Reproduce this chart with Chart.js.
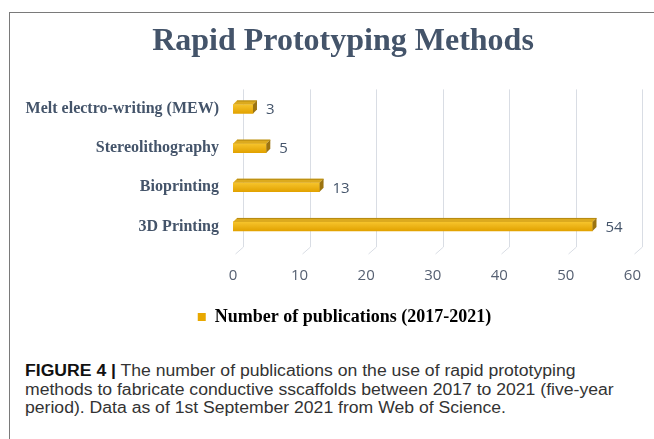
<!DOCTYPE html>
<html>
<head>
<meta charset="utf-8">
<script src="https://cdn.jsdelivr.net/npm/chart.js@4.4.1/dist/chart.umd.min.js"></script>
<style>
  html, body { margin: 0; padding: 0; background: #fff; overflow: hidden; }
  body { width: 654px; height: 439px; position: relative; }
  #frame {
    position: absolute; left: 9px; top: 12px; width: 660px; height: 440px;
    border-top: 1px solid #7a7a7a; border-left: 1px solid #7a7a7a;
  }
  #chart { position: absolute; left: 10px; top: 13px; }
  #caption {
    position: absolute; left: 25px; top: 362px;
    font-family: "Liberation Sans", Arial, sans-serif; font-size: 16px;
    line-height: 18.5px; color: #333; white-space: nowrap;
    transform: scaleX(1.1); transform-origin: left top;
  }
  #caption b { color: #111; }
</style>
</head>
<body>
<div id="frame"></div>
<canvas id="chart" width="652" height="327"></canvas>
<div id="caption"><b>FIGURE 4 |</b> The number of publications on the use of rapid prototyping<br>methods to fabricate conductive sscaffolds between 2017 to 2021 (five-year<br>period). Data as of 1st September 2021 from Web of Science.</div>
<script>
const Chart = window.Chart;

// datos
const categories = ["Melt electro-writing (MEW)", "Stereolithography", "Bioprinting", "3D Printing"];
const publications = [3, 5, 13, 54];
const seriesName = "Number of publications (2017-2021)";
const xTicks = [0, 10, 20, 30, 40, 50, 60];

const SLATE = "#44546a";
const BAR_H = 9;
const DEPTH_X = 4, DEPTH_Y = 4;

// título y leyenda algo corridos a la derecha, como en el original
const shiftBlocks = {
  id: "shiftBlocks",
  afterLayout(chart) {
    if (chart.titleBlock) chart.titleBlock.left += 43;
    if (chart.legend) chart.legend.left += 46;
  }
};

// rejilla con efecto 3D (pared del fondo + diagonal al frente)
const grid3d = {
  id: "grid3d",
  beforeDatasetsDraw(chart) {
    const { ctx, chartArea, scales } = chart;
    ctx.save();
    ctx.strokeStyle = "#d9dde4";
    ctx.lineWidth = 1;
    xTicks.forEach(v => {
      const x = Math.round(scales.x.getPixelForValue(v)) + 0.5;
      ctx.beginPath();
      ctx.moveTo(x + 10, chartArea.top);
      ctx.lineTo(x + 10, chartArea.bottom + 1);
      ctx.lineTo(x + 2, chartArea.bottom + 8);
      ctx.stroke();
    });
    ctx.restore();
  }
};

// caras superior y lateral de las barras + etiquetas de valor
const bars3d = {
  id: "bars3d",
  afterDatasetsDraw(chart) {
    const { ctx } = chart;
    const meta = chart.getDatasetMeta(0);
    ctx.save();
    meta.data.forEach((bar, i) => {
      const { x, y, base, height } = bar.getProps(["x", "y", "base", "height"], true);
      const top = y - height / 2;
      const bottom = y + height / 2;
      // cara superior
      ctx.fillStyle = "#dcaa1e";
      ctx.beginPath();
      ctx.moveTo(base, top);
      ctx.lineTo(base + DEPTH_X, top - DEPTH_Y);
      ctx.lineTo(x + DEPTH_X, top - DEPTH_Y);
      ctx.lineTo(x, top);
      ctx.closePath();
      ctx.fill();
      ctx.strokeStyle = "#b58a12";
      ctx.lineWidth = 1;
      ctx.beginPath();
      ctx.moveTo(base + DEPTH_X, top - DEPTH_Y + 0.5);
      ctx.lineTo(x + DEPTH_X, top - DEPTH_Y + 0.5);
      ctx.stroke();
      // cara lateral
      ctx.fillStyle = "#9c7410";
      ctx.beginPath();
      ctx.moveTo(x, top);
      ctx.lineTo(x + DEPTH_X, top - DEPTH_Y);
      ctx.lineTo(x + DEPTH_X, bottom - DEPTH_Y);
      ctx.lineTo(x, bottom);
      ctx.closePath();
      ctx.fill();
      // valor
      ctx.fillStyle = SLATE;
      ctx.font = "15px 'Open Sans'";
      ctx.textAlign = "left";
      ctx.textBaseline = "middle";
      ctx.fillText(String(publications[i]), x + 13, y + 1);
    });
    ctx.restore();
  }
};

const ctx = document.getElementById("chart");

new Chart(ctx, {
  type: "bar",
  data: {
    labels: categories,
    datasets: [{
      label: seriesName,
      data: publications,
      backgroundColor: (c) => {
        const yScale = c.chart.scales && c.chart.scales.y;
        if (!c.chart.chartArea || !yScale || c.dataIndex === undefined) return "#e8a800";
        const cy = yScale.getPixelForValue(c.dataIndex);
        if (!isFinite(cy)) return "#e8a800";
        const g = c.chart.ctx.createLinearGradient(0, cy - BAR_H / 2, 0, cy + BAR_H / 2);
        g.addColorStop(0, "#f6c42c");
        g.addColorStop(1, "#e2a200");
        return g;
      },
      borderWidth: 0,
      barThickness: BAR_H,
    }],
  },
  options: {
    indexAxis: "y",
    responsive: false,
    animation: false,
    devicePixelRatio: 1,
    layout: { padding: { left: 0, right: 29, top: 0, bottom: 4 } },
    scales: {
      x: {
        min: 0,
        max: 60,
        afterBuildTicks: (scale) => { scale.ticks = xTicks.map(v => ({ value: v })); },
        afterFit: (scale) => { scale.height = 52; },
        grid: { display: false, drawTicks: false },
        border: { display: false },
        ticks: {
          padding: 21,
          color: "#566072",
          font: { family: "'Open Sans'", size: 15 },
        },
      },
      y: {
        afterFit: (scale) => { scale.width = 223; },
        grid: { display: false, drawTicks: false },
        border: { display: false },
        ticks: {
          padding: 14,
          color: SLATE,
          font: { family: "'Liberation Serif'", size: 16, weight: "bold" },
        },
      },
    },
    plugins: {
      title: {
        display: true,
        text: "Rapid Prototyping Methods",
        color: SLATE,
        font: { family: "'Liberation Serif'", size: 32, weight: "bold" },
        padding: { top: 10, bottom: 28 },
      },
      legend: {
        position: "bottom",
        labels: {
          boxWidth: 8,
          boxHeight: 8,
          color: SLATE,
          padding: 10,
          font: { family: "'Liberation Serif'", size: 18, weight: "bold" },
          generateLabels: () => [{
            text: seriesName,
            fillStyle: "#e8a800",
            strokeStyle: "#e8a800",
            lineWidth: 0,
            datasetIndex: 0,
          }],
        },
      },
      tooltip: { enabled: false },
    },
  },
  plugins: [shiftBlocks, grid3d, bars3d],
});
</script>
</body>
</html>
